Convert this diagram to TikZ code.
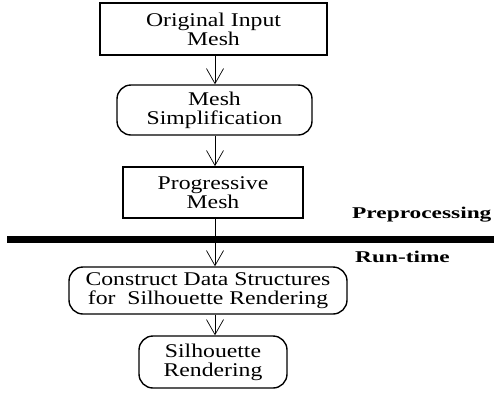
\documentclass[tikz,border=0pt]{standalone}
\usepackage{fontspec}
\setmainfont{Liberation Serif}[FakeStretch=1.22]
\newfontfamily\tagfont{Liberation Serif}[FakeStretch=1.42]
\usetikzlibrary{positioning, arrows.meta}

\tikzset{
  stage/.style={draw, line width=1.7pt, inner sep=0pt, align=center,
    font=\fontsize{19.5}{19}\selectfont},
  roundstage/.style={stage, line width=1.4pt, rounded corners=14bp},
  flow/.style={line width=0.7pt, -{Straight Barb[length=15bp, width=17bp, line width=0.7pt]}},
  phase/.style={anchor=base west, inner sep=0pt,
    font=\tagfont\bfseries\fontsize{16.5}{17}\selectfont},
}

\begin{document}
\begin{tikzpicture}[x=1bp, y=-1bp]
  \useasboundingbox (0,0) rectangle (494,403);
  \coordinate (spine) at (215,0);

  % preprocessing chain
  \node[stage, minimum width=227bp, minimum height=52bp] (orig) at (213.5,29)
    {Original Input\\Mesh};
  \node[roundstage, minimum width=195bp, minimum height=50bp] (simp) at (214.5,110)
    {Mesh\\Simplification};
  \node[stage, minimum width=180bp, minimum height=51bp] (prog) at (213,192.5)
    {Progressive\\Mesh};

  % run-time chain
  \node[roundstage, minimum width=278bp, minimum height=47bp] (build) at (208,290.5)
    {Construct Data Structures\\for~ Silhouette Rendering};
  \node[roundstage, minimum width=148bp, minimum height=52bp] (render) at (213,362)
    {Silhouette\\Rendering};

  \draw[flow] (orig.south -| spine) -- (simp.north -| spine);
  \draw[flow] (simp.south -| spine) -- (prog.north -| spine);
  \draw[flow] (prog.south -| spine) -- (build.north -| spine);
  \draw[flow] (build.south -| spine) -- (render.north -| spine);

  % phase divider
  \coordinate (barL) at (7,239.5);
  \coordinate (barR) at (494,239.5);
  \draw[line width=7bp] (barL) -- (barR);
  \node[phase] (pre) at (352,218) {Preprocessing};
  \node[phase] (run) at (355,262) {Run-time};
\end{tikzpicture}
\end{document}
